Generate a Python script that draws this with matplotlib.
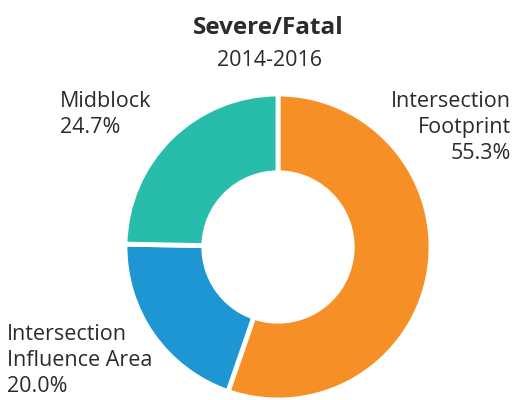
import matplotlib
matplotlib.use("Agg")
import matplotlib.pyplot as plt

plt.rcParams['font.family'] = ['Open Sans', 'DejaVu Sans']

# data
labels = ["Intersection\nFootprint", "Intersection\nInfluence Area", "Midblock"]
values = [55.3, 20.0, 24.7]
colors = ["#F68F26", "#1F96D4", "#27BDAA"]

W, H = 514, 400
fig = plt.figure(figsize=(W / 100, H / 100), dpi=100)
ax = fig.add_axes([0, 0, 1, 1])

# donut, drawn in pixel-like coords (y up)
cx, cy, r = 278, H - 247, 153
ax.pie(values, colors=colors, startangle=90, counterclock=False,
       center=(cx, cy), radius=r,
       wedgeprops=dict(width=r * 0.515, edgecolor="white", linewidth=3.5))
ax.set_xlim(0, W)
ax.set_ylim(0, H)
ax.set_aspect("equal")
ax.axis("off")

txt = "#2b2b2b"
ax.text(268, H - 28, "Severe/Fatal", ha="center", va="center",
        fontsize=17.5, fontweight="bold", color=txt)
ax.text(270, H - 60, "2014-2016", ha="center", va="center",
        fontsize=15.5, color=txt)

fs = 15.5
ls = 1.32
ax.text(60, H - 91, "Midblock\n%.1f%%" % values[2], ha="left", va="top",
        fontsize=fs, color=txt, linespacing=ls)
ax.text(511, H - 91, "%s\n%.1f%%" % (labels[0], values[0]), ha="right", va="top",
        fontsize=fs, color=txt, linespacing=ls)
ax.text(7, H - 397, "%s\n%.1f%%" % (labels[1], values[1]), ha="left", va="bottom",
        fontsize=fs, color=txt, linespacing=ls)

fig.savefig("out.png", dpi=100)
